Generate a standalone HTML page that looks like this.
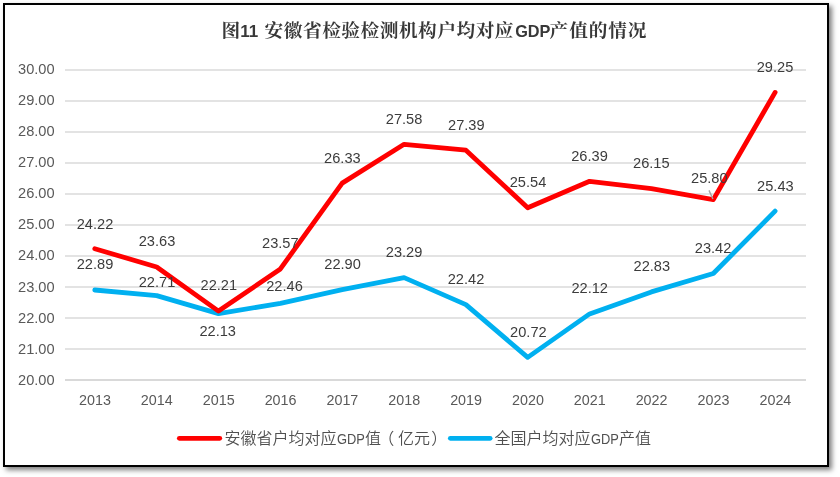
<!DOCTYPE html>
<html lang="zh-CN">
<head>
<meta charset="utf-8">
<title>图11 安徽省检验检测机构户均对应GDP产值的情况</title>
<style>
html,body{margin:0;padding:0;background:#fff;}
body{width:840px;height:477px;overflow:hidden;position:relative;}
#frame{position:absolute;left:3px;top:3px;width:822px;height:460px;border:2px solid #000;background:#fff;box-shadow:3px 3px 5px rgba(0,0,0,.5);}
svg{position:absolute;left:0;top:0;}
.num{font-family:"Liberation Sans",sans-serif;font-size:14px;}
.title{font-weight:bold;fill:#383838;}
.tc{font-family:"Liberation Serif","Noto Serif CJK SC",serif;font-size:18.67px;letter-spacing:0.53px;}
.tl{font-family:"Liberation Sans",sans-serif;font-size:17px;}
.tg{font-family:"Liberation Sans",sans-serif;font-size:16.3px;}
.lg{font-size:14px;}
.leg{font-family:"Liberation Sans","Noto Sans CJK SC",sans-serif;font-size:16px;font-weight:350;fill:#505050;}
</style>
</head>
<body>
<div id="frame"></div>
<svg width="840" height="477" viewBox="0 0 840 477">

<g stroke="#e3e3e3" stroke-width="2" shape-rendering="crispEdges">
<line x1="65" x2="806" y1="380" y2="380" stroke="#d9d9d9"/>
<line x1="65" x2="806" y1="349" y2="349"/>
<line x1="65" x2="806" y1="318" y2="318"/>
<line x1="65" x2="806" y1="287" y2="287"/>
<line x1="65" x2="806" y1="256" y2="256"/>
<line x1="65" x2="806" y1="225" y2="225"/>
<line x1="65" x2="806" y1="194" y2="194"/>
<line x1="65" x2="806" y1="163" y2="163"/>
<line x1="65" x2="806" y1="132" y2="132"/>
<line x1="65" x2="806" y1="101" y2="101"/>
<line x1="65" x2="806" y1="70" y2="70"/>
</g>
<text class="title" y="36.5"><tspan class="tc" x="221.4">图</tspan><tspan class="tl" x="240.2">11 </tspan><tspan class="tc" x="264.6">安徽省检验检测机构户均对应</tspan><tspan class="tg" x="515.2">GDP</tspan><tspan class="tc" x="549.6" style="letter-spacing:0.9px">产值的情况</tspan></text>
<g class="num">
<text x="36.3" y="384.7" text-anchor="middle" fill="#595959" textLength="36.6" lengthAdjust="spacingAndGlyphs">20.00</text>
<text x="36.3" y="353.6" text-anchor="middle" fill="#595959" textLength="36.6" lengthAdjust="spacingAndGlyphs">21.00</text>
<text x="36.3" y="322.6" text-anchor="middle" fill="#595959" textLength="36.6" lengthAdjust="spacingAndGlyphs">22.00</text>
<text x="36.3" y="291.5" text-anchor="middle" fill="#595959" textLength="36.6" lengthAdjust="spacingAndGlyphs">23.00</text>
<text x="36.3" y="260.4" text-anchor="middle" fill="#595959" textLength="36.6" lengthAdjust="spacingAndGlyphs">24.00</text>
<text x="36.3" y="229.4" text-anchor="middle" fill="#595959" textLength="36.6" lengthAdjust="spacingAndGlyphs">25.00</text>
<text x="36.3" y="198.3" text-anchor="middle" fill="#595959" textLength="36.6" lengthAdjust="spacingAndGlyphs">26.00</text>
<text x="36.3" y="167.2" text-anchor="middle" fill="#595959" textLength="36.6" lengthAdjust="spacingAndGlyphs">27.00</text>
<text x="36.3" y="136.2" text-anchor="middle" fill="#595959" textLength="36.6" lengthAdjust="spacingAndGlyphs">28.00</text>
<text x="36.3" y="105.1" text-anchor="middle" fill="#595959" textLength="36.6" lengthAdjust="spacingAndGlyphs">29.00</text>
<text x="36.3" y="74.0" text-anchor="middle" fill="#595959" textLength="36.6" lengthAdjust="spacingAndGlyphs">30.00</text>
<text x="95.0" y="405.2" text-anchor="middle" fill="#595959" textLength="31.9" lengthAdjust="spacingAndGlyphs">2013</text>
<text x="156.8" y="405.2" text-anchor="middle" fill="#595959" textLength="31.9" lengthAdjust="spacingAndGlyphs">2014</text>
<text x="218.7" y="405.2" text-anchor="middle" fill="#595959" textLength="31.9" lengthAdjust="spacingAndGlyphs">2015</text>
<text x="280.6" y="405.2" text-anchor="middle" fill="#595959" textLength="31.9" lengthAdjust="spacingAndGlyphs">2016</text>
<text x="342.4" y="405.2" text-anchor="middle" fill="#595959" textLength="31.9" lengthAdjust="spacingAndGlyphs">2017</text>
<text x="404.2" y="405.2" text-anchor="middle" fill="#595959" textLength="31.9" lengthAdjust="spacingAndGlyphs">2018</text>
<text x="466.1" y="405.2" text-anchor="middle" fill="#595959" textLength="31.9" lengthAdjust="spacingAndGlyphs">2019</text>
<text x="528.0" y="405.2" text-anchor="middle" fill="#595959" textLength="31.9" lengthAdjust="spacingAndGlyphs">2020</text>
<text x="589.8" y="405.2" text-anchor="middle" fill="#595959" textLength="31.9" lengthAdjust="spacingAndGlyphs">2021</text>
<text x="651.6" y="405.2" text-anchor="middle" fill="#595959" textLength="31.9" lengthAdjust="spacingAndGlyphs">2022</text>
<text x="713.5" y="405.2" text-anchor="middle" fill="#595959" textLength="31.9" lengthAdjust="spacingAndGlyphs">2023</text>
<text x="775.4" y="405.2" text-anchor="middle" fill="#595959" textLength="31.9" lengthAdjust="spacingAndGlyphs">2024</text>
</g>
<polyline points="94.8,290.0 156.7,295.6 218.5,313.6 280.4,303.4 342.2,289.7 404.1,277.6 465.9,304.6 527.7,357.4 589.6,313.9 651.4,291.9 713.3,273.5 775.1,211.1" fill="none" stroke="#00B0F0" stroke-width="4.8" stroke-linecap="round" stroke-linejoin="round"/>
<polyline points="94.8,248.7 156.7,267.0 218.5,311.1 280.4,268.9 342.2,183.1 404.1,144.3 465.9,150.2 527.7,207.7 589.6,181.3 651.4,188.7 713.3,199.6 775.1,92.4" fill="none" stroke="#FF0000" stroke-width="4.8" stroke-linecap="round" stroke-linejoin="round"/>
<line x1="709" y1="190.4" x2="712.9" y2="199" stroke="#a6a6a6" stroke-width="1.4"/>
<g class="num">
<text x="95.0" y="228.5" text-anchor="middle" fill="#3c3c3c" textLength="36.6" lengthAdjust="spacingAndGlyphs">24.22</text>
<text x="157.0" y="246.2" text-anchor="middle" fill="#3c3c3c" textLength="36.6" lengthAdjust="spacingAndGlyphs">23.63</text>
<text x="218.8" y="290.3" text-anchor="middle" fill="#3c3c3c" textLength="36.6" lengthAdjust="spacingAndGlyphs">22.21</text>
<text x="280.3" y="248.0" text-anchor="middle" fill="#3c3c3c" textLength="36.6" lengthAdjust="spacingAndGlyphs">23.57</text>
<text x="342.4" y="162.7" text-anchor="middle" fill="#3c3c3c" textLength="36.6" lengthAdjust="spacingAndGlyphs">26.33</text>
<text x="404.1" y="124.2" text-anchor="middle" fill="#3c3c3c" textLength="36.6" lengthAdjust="spacingAndGlyphs">27.58</text>
<text x="466.3" y="130.0" text-anchor="middle" fill="#3c3c3c" textLength="36.6" lengthAdjust="spacingAndGlyphs">27.39</text>
<text x="528.0" y="187.2" text-anchor="middle" fill="#3c3c3c" textLength="36.6" lengthAdjust="spacingAndGlyphs">25.54</text>
<text x="589.5" y="160.9" text-anchor="middle" fill="#3c3c3c" textLength="36.6" lengthAdjust="spacingAndGlyphs">26.39</text>
<text x="651.3" y="168.0" text-anchor="middle" fill="#3c3c3c" textLength="36.6" lengthAdjust="spacingAndGlyphs">26.15</text>
<text x="709.3" y="183.2" text-anchor="middle" fill="#3c3c3c" textLength="36.6" lengthAdjust="spacingAndGlyphs">25.80</text>
<text x="775.0" y="72.4" text-anchor="middle" fill="#3c3c3c" textLength="36.6" lengthAdjust="spacingAndGlyphs">29.25</text>
<text x="95.0" y="269.4" text-anchor="middle" fill="#3c3c3c" textLength="36.6" lengthAdjust="spacingAndGlyphs">22.89</text>
<text x="157.0" y="287.2" text-anchor="middle" fill="#3c3c3c" textLength="36.6" lengthAdjust="spacingAndGlyphs">22.71</text>
<text x="217.7" y="336.2" text-anchor="middle" fill="#3c3c3c" textLength="36.6" lengthAdjust="spacingAndGlyphs">22.13</text>
<text x="284.5" y="290.8" text-anchor="middle" fill="#3c3c3c" textLength="36.6" lengthAdjust="spacingAndGlyphs">22.46</text>
<text x="342.6" y="268.9" text-anchor="middle" fill="#3c3c3c" textLength="36.6" lengthAdjust="spacingAndGlyphs">22.90</text>
<text x="404.1" y="257.1" text-anchor="middle" fill="#3c3c3c" textLength="36.6" lengthAdjust="spacingAndGlyphs">23.29</text>
<text x="466.0" y="284.0" text-anchor="middle" fill="#3c3c3c" textLength="36.6" lengthAdjust="spacingAndGlyphs">22.42</text>
<text x="528.4" y="336.9" text-anchor="middle" fill="#3c3c3c" textLength="36.6" lengthAdjust="spacingAndGlyphs">20.72</text>
<text x="589.7" y="292.9" text-anchor="middle" fill="#3c3c3c" textLength="36.6" lengthAdjust="spacingAndGlyphs">22.12</text>
<text x="651.8" y="271.0" text-anchor="middle" fill="#3c3c3c" textLength="36.6" lengthAdjust="spacingAndGlyphs">22.83</text>
<text x="713.1" y="253.1" text-anchor="middle" fill="#3c3c3c" textLength="36.6" lengthAdjust="spacingAndGlyphs">23.42</text>
<text x="775.4" y="190.8" text-anchor="middle" fill="#3c3c3c" textLength="36.6" lengthAdjust="spacingAndGlyphs">25.43</text>
</g>
<line x1="179.3" x2="219.8" y1="438.3" y2="438.3" stroke="#FF0000" stroke-width="4.7" stroke-linecap="round"/>
<text class="leg" x="224.5" y="444">安徽省户均对应<tspan class="lg" dx="0.5" textLength="27.9" lengthAdjust="spacingAndGlyphs">GDP</tspan>值<tspan dx="-2.8">（</tspan><tspan dx="3.8">亿</tspan>元<tspan dx="1.3">）</tspan></text>
<line x1="450.3" x2="490.2" y1="438.3" y2="438.3" stroke="#00B0F0" stroke-width="4.7" stroke-linecap="round"/>
<text class="leg" x="494.5" y="444">全国户均对应<tspan class="lg" dx="0.5" textLength="27.9" lengthAdjust="spacingAndGlyphs">GDP</tspan>产值</text>
</svg>
</body>
</html>
